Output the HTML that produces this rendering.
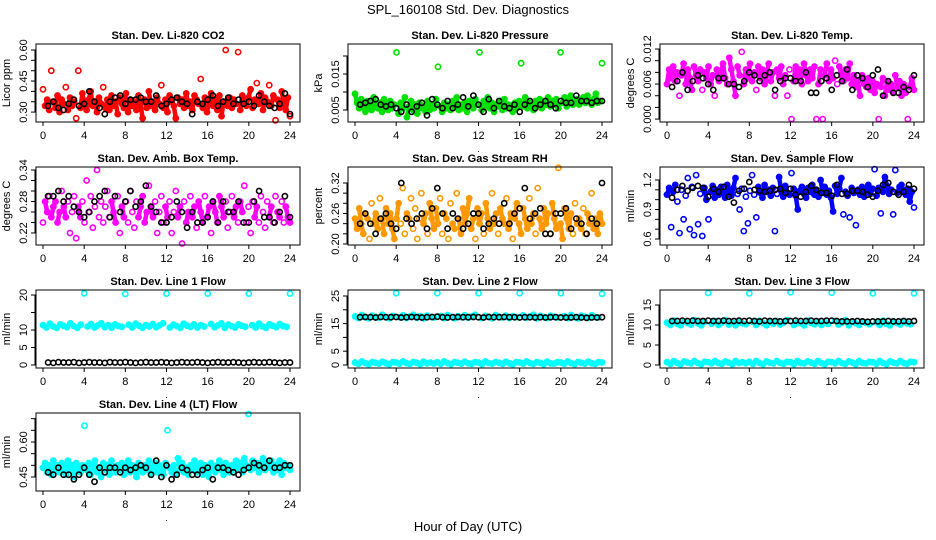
<!DOCTYPE html>
<html><head><meta charset="utf-8">
<style>
html,body{margin:0;padding:0;background:#fff;}
svg{display:block;font-family:"Liberation Sans",sans-serif;}
</style></head>
<body>
<svg id="chart" width="936" height="540" viewBox="0 0 936 540">
<text x="468" y="14" text-anchor="middle" font-size="13">SPL_160108  Std. Dev. Diagnostics</text>
<text x="468" y="531" text-anchor="middle" font-size="13">Hour of Day (UTC)</text>
</svg>
<script>
// ---- data ----
const co2Color = [0.41,0.33,0.36,0.31,0.50,0.35,0.32,0.38,0.30,0.36,0.34,0.42,0.31,0.37,0.33,0.35,0.27,0.50,0.32,0.39,0.34,0.31,0.36,0.40,0.33,0.35,0.30,0.37,0.34,0.42,0.32,0.36,0.31,0.38,0.33,0.35,0.29,0.37,0.34,0.32,0.39,0.30,0.36,0.33,0.35,0.31,0.38,0.34,0.27,0.36,0.32,0.40,0.33,0.35,0.31,0.37,0.34,0.43,0.32,0.36,0.30,0.38,0.35,0.33,0.27,0.37,0.34,0.36,0.32,0.39,0.33,0.35,0.31,0.38,0.36,0.34,0.46,0.32,0.37,0.30,0.35,0.39,0.33,0.36,0.31,0.38,0.28,0.35,0.60,0.33,0.37,0.32,0.36,0.34,0.59,0.31,0.38,0.35,0.33,0.37,0.41,0.32,0.36,0.44,0.34,0.39,0.31,0.37,0.35,0.43,0.33,0.38,0.26,0.36,0.32,0.40,0.34,0.31,0.37,0.28];
const co2Black = [0.33,0.35,0.32,0.31,0.34,0.36,0.33,0.34,0.40,0.35,0.32,0.29,0.35,0.37,0.38,0.34,0.36,0.36,0.37,0.35,0.35,0.38,0.33,0.34,0.36,0.37,0.35,0.34,0.29,0.35,0.34,0.36,0.38,0.33,0.35,0.37,0.34,0.36,0.34,0.35,0.33,0.38,0.35,0.33,0.32,0.34,0.39,0.29];
const presColor = [0.0095,0.007,0.0055,0.008,0.006,0.0045,0.0075,0.006,0.005,0.0085,0.0065,0.0055,0.007,0.0045,0.008,0.006,0.005,0.0075,0.0055,0.0065,0.021,0.004,0.007,0.0055,0.0085,0.003,0.006,0.0075,0.005,0.0065,0.004,0.007,0.0055,0.006,0.0045,0.0075,0.005,0.0065,0.0055,0.008,0.017,0.006,0.0045,0.007,0.0055,0.0065,0.005,0.0075,0.006,0.0085,0.005,0.0065,0.0055,0.007,0.0045,0.0075,0.006,0.0055,0.008,0.0065,0.021,0.005,0.0075,0.006,0.0085,0.0055,0.007,0.0045,0.0065,0.006,0.0075,0.005,0.008,0.0055,0.0065,0.006,0.0045,0.007,0.0055,0.0075,0.018,0.006,0.0085,0.0055,0.007,0.0065,0.005,0.0075,0.006,0.008,0.0055,0.007,0.0065,0.0085,0.006,0.0075,0.0065,0.008,0.0055,0.021,0.007,0.0085,0.006,0.0075,0.009,0.0065,0.007,0.008,0.0065,0.0075,0.0085,0.007,0.009,0.0075,0.0065,0.008,0.0095,0.007,0.0075,0.018];
const presBlack = [0.0065,0.007,0.0075,0.008,0.0065,0.006,0.0065,0.0055,0.0045,0.0065,0.0045,0.006,0.007,0.0035,0.008,0.0065,0.0055,0.0075,0.0055,0.0065,0.0085,0.006,0.009,0.0065,0.0045,0.008,0.0055,0.0075,0.006,0.0055,0.0065,0.0045,0.0065,0.0075,0.0055,0.0065,0.0075,0.0065,0.0055,0.0075,0.007,0.007,0.009,0.0075,0.0075,0.007,0.0075,0.0075];
const tempColor = [0.006,0.0085,0.007,0.009,0.0065,0.008,0.004,0.0075,0.0095,0.006,0.0085,0.007,0.005,0.009,0.0075,0.0065,0.0085,0.005,0.008,0.007,0.009,0.006,0.0075,0.004,0.0085,0.0065,0.008,0.0095,0.007,0.006,0.0105,0.0085,0.0065,0.004,0.009,0.0075,0.0115,0.006,0.0085,0.007,0.0095,0.0065,0.008,0.005,0.009,0.007,0.0085,0.006,0.0075,0.0095,0.0065,0.008,0.004,0.0085,0.007,0.009,0.006,0.0075,0.004,0.0085,0.000,0.0065,0.009,0.007,0.0085,0.006,0.0095,0.0075,0.0065,0.0085,0.007,0.009,0.000,0.006,0.0085,0.000,0.0075,0.0095,0.0065,0.0085,0.007,0.010,0.006,0.009,0.0075,0.0065,0.0085,0.007,0.0095,0.006,0.0075,0.0055,0.0065,0.004,0.0075,0.006,0.0055,0.007,0.005,0.0065,0.0045,0.006,0.000,0.0055,0.007,0.004,0.0065,0.005,0.006,0.0045,0.0075,0.0055,0.0065,0.004,0.006,0.0045,0.000,0.0055,0.007,0.005];
const tempBlack = [0.0055,0.0065,0.008,0.0050,0.0065,0.0075,0.0070,0.0060,0.0050,0.0070,0.0070,0.0060,0.0060,0.0055,0.0065,0.0080,0.0075,0.0065,0.0075,0.0080,0.0050,0.0065,0.0070,0.0070,0.0065,0.0065,0.0080,0.0045,0.0045,0.0065,0.0070,0.0050,0.0075,0.0065,0.0085,0.0050,0.0075,0.0070,0.0055,0.0075,0.0085,0.0040,0.0065,0.0045,0.0045,0.0055,0.0050,0.0075];
const boxColor = [0.24,0.28,0.26,0.29,0.25,0.27,0.28,0.24,0.26,0.30,0.27,0.25,0.28,0.22,0.26,0.29,0.21,0.27,0.25,0.28,0.24,0.32,0.26,0.29,0.23,0.27,0.34,0.25,0.28,0.24,0.27,0.30,0.25,0.28,0.26,0.24,0.29,0.22,0.27,0.25,0.28,0.24,0.30,0.26,0.23,0.28,0.25,0.27,0.29,0.24,0.26,0.31,0.27,0.25,0.28,0.22,0.26,0.29,0.24,0.27,0.25,0.28,0.22,0.26,0.30,0.25,0.27,0.20,0.28,0.24,0.26,0.29,0.25,0.27,0.23,0.28,0.26,0.24,0.29,0.25,0.27,0.22,0.28,0.26,0.24,0.29,0.27,0.25,0.28,0.23,0.26,0.29,0.25,0.27,0.24,0.28,0.26,0.31,0.24,0.27,0.22,0.28,0.25,0.27,0.24,0.29,0.26,0.23,0.28,0.25,0.27,0.24,0.29,0.26,0.25,0.28,0.24,0.27,0.25,0.24];
const boxBlack = [0.29,0.29,0.30,0.28,0.29,0.27,0.26,0.25,0.26,0.28,0.29,0.30,0.25,0.29,0.26,0.28,0.30,0.27,0.28,0.31,0.27,0.26,0.24,0.24,0.25,0.28,0.26,0.23,0.26,0.24,0.24,0.25,0.28,0.24,0.28,0.26,0.26,0.28,0.24,0.24,0.28,0.30,0.25,0.25,0.24,0.26,0.29,0.25];
const rhColor = [0.25,0.23,0.27,0.24,0.22,0.26,0.25,0.21,0.28,0.24,0.26,0.23,0.29,0.25,0.22,0.27,0.24,0.26,0.23,0.21,0.25,0.28,0.24,0.31,0.22,0.26,0.25,0.29,0.23,0.27,0.21,0.25,0.30,0.24,0.26,0.22,0.28,0.25,0.23,0.27,0.24,0.29,0.22,0.26,0.25,0.21,0.28,0.24,0.23,0.30,0.25,0.22,0.27,0.24,0.26,0.29,0.23,0.25,0.21,0.27,0.24,0.26,0.22,0.28,0.25,0.23,0.30,0.24,0.26,0.22,0.27,0.25,0.24,0.29,0.23,0.26,0.21,0.25,0.28,0.24,0.22,0.27,0.25,0.23,0.29,0.24,0.26,0.22,0.31,0.25,0.23,0.27,0.24,0.26,0.22,0.28,0.25,0.23,0.35,0.24,0.21,0.27,0.25,0.23,0.26,0.22,0.28,0.24,0.25,0.23,0.27,0.22,0.26,0.24,0.30,0.23,0.25,0.22,0.26,0.24];
const rhBlack = [0.24,0.26,0.24,0.22,0.25,0.26,0.24,0.23,0.32,0.25,0.24,0.25,0.26,0.23,0.27,0.31,0.26,0.23,0.26,0.25,0.23,0.24,0.26,0.26,0.23,0.24,0.25,0.24,0.28,0.24,0.26,0.27,0.31,0.25,0.26,0.27,0.22,0.22,0.26,0.26,0.27,0.23,0.25,0.24,0.22,0.25,0.24,0.32];
const flowColor = [1.05,1.12,0.72,1.08,1.15,0.98,0.66,1.10,0.80,1.04,1.22,0.70,1.13,0.64,1.25,0.75,1.06,0.63,1.12,1.00,0.80,1.08,1.14,1.02,1.10,1.05,1.13,1.07,1.02,1.15,1.09,1.04,1.12,1.22,1.06,0.90,1.11,0.68,1.03,0.76,1.09,1.25,1.05,0.82,1.13,1.07,1.02,1.15,1.08,1.10,1.04,1.12,0.68,1.06,1.23,1.09,1.03,1.14,1.07,1.05,1.27,1.11,1.04,0.90,1.09,1.13,1.06,1.02,1.12,1.08,1.15,1.05,1.10,1.03,1.20,1.07,1.13,1.05,1.09,1.02,0.88,1.14,1.06,1.11,1.22,0.85,1.08,1.04,0.82,1.12,1.07,0.74,1.10,1.05,1.13,1.03,1.09,1.15,1.06,1.11,1.31,1.04,1.12,0.86,1.08,1.23,1.14,1.06,1.10,0.85,1.30,1.07,1.13,1.15,1.09,1.05,1.11,0.98,1.08,0.92];
const flowBlack = [1.02,1.10,1.14,1.09,1.12,1.14,1.12,1.03,1.11,1.08,1.13,1.03,0.97,1.09,1.11,1.18,1.10,1.09,1.08,1.09,1.10,1.11,1.07,1.11,1.05,1.03,1.08,1.14,1.10,1.07,1.07,1.04,1.15,1.06,1.06,1.09,1.09,1.08,1.05,1.03,1.09,1.15,1.17,1.08,1.05,1.08,1.15,1.11];
const line1High = [11.4,10.7,11.8,11.0,10.6,11.6,11.2,10.8,11.9,11.1,10.6,11.5,20.5,11.0,11.7,10.7,11.3,11.9,10.8,11.4,10.6,11.6,11.1,10.9,20.3,11.5,10.7,11.8,11.2,10.6,11.4,11.0,11.7,10.8,11.3,11.9,20.4,10.7,11.5,11.1,10.6,11.8,11.2,10.9,11.6,10.7,11.4,11.0,20.4,11.7,10.8,11.3,11.9,10.6,11.5,11.1,10.7,11.6,11.2,10.9,20.4,11.4,10.7,11.8,11.0,10.6,11.6,11.2,10.8,11.7,11.1,10.9,20.4];
const line1Black = [0.7,0.6,0.8,0.7,0.7,0.8,0.6,0.7,0.8,0.7,0.7,0.6,0.8,0.7,0.7,0.8,0.7,0.6,0.7,0.8,0.7,0.7,0.8,0.7,0.6,0.7,0.8,0.7,0.7,0.8,0.7,0.6,0.7,0.8,0.7,0.7,0.8,0.7,0.6,0.7,0.8,0.7,0.7,0.8,0.7,0.6,0.7,0.7];
const line2High = [17.6,17.0,18.1,17.3,16.9,17.9,17.5,17.1,18.2,17.4,16.9,17.8,26.0,17.3,18.0,17.0,17.6,18.2,17.1,17.7,16.9,17.9,17.4,17.2,26.0,17.8,17.0,18.1,17.5,16.9,17.7,17.3,18.0,17.1,17.6,18.2,26.0,17.0,17.8,17.4,16.9,18.1,17.5,17.2,17.9,17.0,17.7,17.3,26.0,18.0,17.1,17.6,18.2,16.9,17.8,17.4,17.0,17.9,17.5,17.2,26.0,17.7,17.0,18.1,17.3,16.9,17.9,17.5,17.1,18.0,17.4,17.2,25.8];
const line2Low = [0.9,0.4,1.3,0.7,0.3,1.1,0.8,0.5,1.2,0.6,0.3,1.0,0.9,0.5,1.3,0.7,0.4,1.1,0.8,0.3,1.2,0.6,0.9,0.5,1.0,0.4,1.3,0.7,0.3,1.1,0.8,0.5,1.2,0.6,0.4,1.0,0.9,0.3,1.3,0.7,0.5,1.1,0.8,0.4,1.2,0.6,0.3,1.0,0.9,0.5,1.3,0.7,0.4,1.1,0.8,0.3,1.2,0.6,0.5,1.0,0.9,0.4,1.3,0.7,0.3,1.1,0.8,0.5,1.2,0.6,0.4,1.0,0.9];
const line2Black = [17.3,17.4,17.3,17.2,17.4,17.3,17.3,17.4,17.2,17.3,17.4,17.3,17.2,17.3,17.4,17.5,17.3,17.2,17.3,17.4,17.3,17.3,17.4,17.3,17.2,17.4,17.3,17.3,17.4,17.3,17.3,17.2,17.3,17.3,17.2,17.3,17.2,17.3,17.3,17.2,17.2,17.2,17.3,17.2,17.1,17.2,17.2,17.3];
const line3High = [10.6,10.0,11.1,10.3,9.9,10.9,10.5,10.1,11.2,10.4,9.9,10.8,18.0,10.3,11.0,10.0,10.6,11.2,10.1,10.7,9.9,10.9,10.4,10.2,17.9,10.8,10.0,11.1,10.5,9.9,10.7,10.3,11.0,10.1,10.6,11.2,18.2,10.0,10.8,10.4,9.9,11.1,10.5,10.2,10.9,10.0,10.7,10.3,18.1,11.0,10.1,10.6,11.2,9.9,10.8,10.4,10.0,10.9,10.5,10.2,17.9,10.7,10.0,11.1,10.3,9.9,10.9,10.5,10.1,11.0,10.4,10.2,17.9];
const line3Low = [0.7,0.3,1.0,0.5,0.2,0.9,0.6,0.4,1.0,0.5,0.2,0.8,0.7,0.4,1.0,0.5,0.3,0.9,0.6,0.2,1.0,0.5,0.7,0.4,0.8,0.3,1.0,0.5,0.2,0.9,0.6,0.4,1.0,0.5,0.3,0.8,0.7,0.2,1.0,0.5,0.4,0.9,0.6,0.3,1.0,0.5,0.2,0.8,0.7,0.4,1.0,0.5,0.3,0.9,0.6,0.2,1.0,0.5,0.4,0.8,0.7,0.3,1.0,0.5,0.2,0.9,0.6,0.4,1.0,0.5,0.3,0.8,0.7];
const line3Black = [11.0,11.0,11.1,11.0,11.1,11.0,11.0,11.1,11.0,11.0,11.1,11.0,11.0,11.1,11.0,11.1,11.0,10.9,11.1,11.0,11.0,10.9,11.0,11.0,11.1,11.0,11.0,11.1,11.0,11.0,11.1,11.1,11.0,10.9,10.9,10.9,11.0,10.9,10.8,10.9,10.9,10.9,11.0,10.9,10.9,11.0,10.9,11.0];
const line4Color = [0.49,0.51,0.47,0.50,0.46,0.52,0.48,0.50,0.47,0.51,0.49,0.46,0.52,0.48,0.50,0.45,0.51,0.49,0.47,0.50,0.67,0.48,0.51,0.46,0.50,0.52,0.47,0.49,0.45,0.51,0.48,0.50,0.46,0.52,0.49,0.47,0.50,0.48,0.51,0.46,0.49,0.52,0.47,0.50,0.48,0.45,0.51,0.49,0.47,0.50,0.48,0.52,0.46,0.49,0.51,0.47,0.50,0.48,0.46,0.51,0.65,0.49,0.47,0.50,0.46,0.53,0.48,0.51,0.47,0.49,0.46,0.50,0.48,0.52,0.47,0.49,0.51,0.46,0.50,0.48,0.45,0.51,0.49,0.47,0.50,0.52,0.48,0.46,0.51,0.49,0.47,0.50,0.48,0.52,0.49,0.51,0.47,0.53,0.50,0.72,0.48,0.52,0.49,0.51,0.47,0.50,0.53,0.48,0.51,0.49,0.52,0.47,0.50,0.48,0.52,0.46,0.51,0.49,0.50,0.48];
const line4Black = [0.47,0.46,0.49,0.46,0.46,0.44,0.46,0.49,0.46,0.43,0.49,0.47,0.49,0.49,0.47,0.49,0.48,0.49,0.50,0.49,0.46,0.52,0.45,0.50,0.44,0.46,0.49,0.48,0.46,0.46,0.48,0.49,0.44,0.49,0.49,0.48,0.47,0.46,0.48,0.49,0.51,0.50,0.49,0.52,0.49,0.49,0.50,0.50];
const hourTicks = [0,4,8,12,16,20,24];

// ---- panel layout ----
const panels = [
 {name:'co2',title:'Stan. Dev. Li-820 CO2',ylab:'Licor ppm',col:0,row:0,dom:[0.252,0.629],ticks:[0.30,0.35,0.40,0.45,0.50,0.55,0.60],labels:[0.30,0.45,0.60],dec:2,color:'#ff0000',series:[co2Color],black:co2Black},
 {name:'pressure',title:'Stan. Dev. Li-820 Pressure',ylab:'kPa',col:1,row:0,dom:[0.00167,0.02333],ticks:[0.005,0.010,0.015,0.020],labels:[0.005,0.015],dec:3,color:'#00e000',series:[presColor],black:presBlack},
 {name:'li820-temp',title:'Stan. Dev. Li-820 Temp.',ylab:'degrees C',col:2,row:0,dom:[-0.0005,0.01286],ticks:[0,0.002,0.004,0.006,0.008,0.010,0.012],labels:[0,0.006,0.012],dec:3,color:'#ff00ff',series:[tempColor],black:tempBlack},
 {name:'amb-box-temp',title:'Stan. Dev. Amb. Box Temp.',ylab:'degrees C',col:0,row:1,dom:[0.1971,0.3457],ticks:[0.22,0.24,0.26,0.28,0.30,0.32,0.34],labels:[0.22,0.28,0.34],dec:2,color:'#ff00ff',series:[boxColor],black:boxBlack},
 {name:'gas-stream-rh',title:'Stan. Dev. Gas Stream RH',ylab:'percent',col:1,row:1,dom:[0.198,0.3515],ticks:[0.20,0.22,0.24,0.26,0.28,0.30,0.32],labels:[0.20,0.26,0.32],dec:2,color:'#ff9900',series:[rhColor],black:rhBlack},
 {name:'sample-flow',title:'Stan. Dev. Sample Flow',ylab:'ml/min',col:2,row:1,dom:[0.539,1.332],ticks:[0.6,0.7,0.8,0.9,1.0,1.1,1.2],labels:[0.6,0.9,1.2],dec:1,color:'#0000ff',series:[flowColor],black:flowBlack},
 {name:'line1-flow',title:'Stan. Dev. Line 1 Flow',ylab:'ml/min',col:0,row:2,dom:[-0.86,21.43],ticks:[0,5,10,15,20],labels:[0,5,10,20],dec:0,color:'#00ffff',series:[line1High],black:line1Black},
 {name:'line2-flow',title:'Stan. Dev. Line 2 Flow',ylab:'ml/min',col:1,row:2,dom:[-1.09,27.17],ticks:[0,5,10,15,20,25],labels:[0,5,15,25],dec:0,color:'#00ffff',series:[line2High,line2Low],black:line2Black},
 {name:'line3-flow',title:'Stan. Dev. Line 3 Flow',ylab:'ml/min',col:2,row:2,dom:[-0.75,18.75],ticks:[0,5,10,15],labels:[0,5,10,15],dec:0,color:'#00ffff',series:[line3High,line3Low],black:line3Black},
 {name:'line4-flow',title:'Stan. Dev. Line 4 (LT) Flow',ylab:'ml/min',col:0,row:3,dom:[0.39,0.7243],ticks:[0.45,0.50,0.55,0.60,0.65,0.70],labels:[0.45,0.60],dec:2,color:'#00ffff',series:[line4Color],black:line4Black}
];

const NS='http://www.w3.org/2000/svg';
const svg=document.getElementById('chart');
function mk(tag,attrs,parent){const e=document.createElementNS(NS,tag);for(const k in attrs)e.setAttribute(k,attrs[k]);(parent||svg).appendChild(e);return e;}

panels.forEach(p=>{
  const left=36+312*p.col, right=300+312*p.col;
  const top=44+123*p.row, bottom=122+123*p.row;
  const x0=43+312*p.col, x24=290+312*p.col;
  const xs=h=>x0+(x24-x0)*h/24;
  const ys=v=>bottom-(v-p.dom[0])/(p.dom[1]-p.dom[0])*(bottom-top);
  const g=mk('g',{});
  
  
  const t=mk('text',{x:(left+right)/2,y:top-5,'text-anchor':'middle','font-size':'11','font-weight':'bold'},g);
  t.textContent=p.title;
  
  
  const pg=mk('g',{fill:'none','stroke-width':'1.6'},g);
  
  
  const span=p.dom[1]-p.dom[0];
  p.series.forEach(arr=>{
    const n=arr.length;
    let d='';
    for(let i=1;i<n;i++){
      if(Math.abs(arr[i]-arr[i-1])<span*0.2){
        d+=`M${xs((i-1)*24/(n-1)).toFixed(1)},${ys(arr[i-1]).toFixed(1)}L${xs(i*24/(n-1)).toFixed(1)},${ys(arr[i]).toFixed(1)}`;
      }
    }
    const band=mk('path',{d:d,stroke:p.color,'stroke-width':'4.5','stroke-linecap':'round'},pg);
    
    
    arr.forEach((v,i)=>{
      const c=mk('circle',{cx:xs(i*24/(n-1)).toFixed(1),cy:ys(v).toFixed(1),r:'2.6',stroke:p.color},pg);
      
      
    });
  });
  p.black.forEach((v,i)=>{
    const c=mk('circle',{cx:xs((i+1)*0.5).toFixed(1),cy:ys(v).toFixed(1),r:'2.6',stroke:'#000'},pg);
    
    
  });
  const b=mk('rect',{x:left,y:top,width:right-left,height:bottom-top,fill:'none',stroke:'#000','stroke-width':'1'},g);
  
  
  const xa=mk('g',{stroke:'#000'},g);
  
  
  hourTicks.forEach(h=>{
    mk('line',{x1:xs(h),x2:xs(h),y1:bottom,y2:bottom+4},xa);
    const tl=mk('text',{x:xs(h),y:bottom+17,'text-anchor':'middle','font-size':'11',stroke:'none'},xa);
    tl.textContent=String(h);
    
    
  });
  const dot=mk('text',{x:(x0+x24)/2,y:bottom+30,'text-anchor':'middle','font-size':'9',stroke:'none'},g);
  dot.textContent='.';
  
  
  const ya=mk('g',{stroke:'#000'},g);
  
  
  mk('line',{x1:left-1,x2:left-1,y1:ys(p.ticks[0]),y2:ys(p.ticks[p.ticks.length-1])},ya);
  p.ticks.forEach(v=>{mk('line',{x1:left-5,x2:left,y1:ys(v),y2:ys(v)},ya);});
  p.labels.forEach(v=>{
    const yy=ys(v);
    const tl=mk('text',{x:left-9,y:yy,'text-anchor':'middle','font-size':'11',stroke:'none',transform:`rotate(-90 ${left-9} ${yy})`},ya);
    tl.textContent=v.toFixed(p.dec);
    
    
  });
  const yl=mk('text',{x:left-26,y:(top+bottom)/2,'text-anchor':'middle','font-size':'11',transform:`rotate(-90 ${left-26} ${(top+bottom)/2})`},g);
  yl.textContent=p.ylab;
  
  
});
</script>
</body></html>
